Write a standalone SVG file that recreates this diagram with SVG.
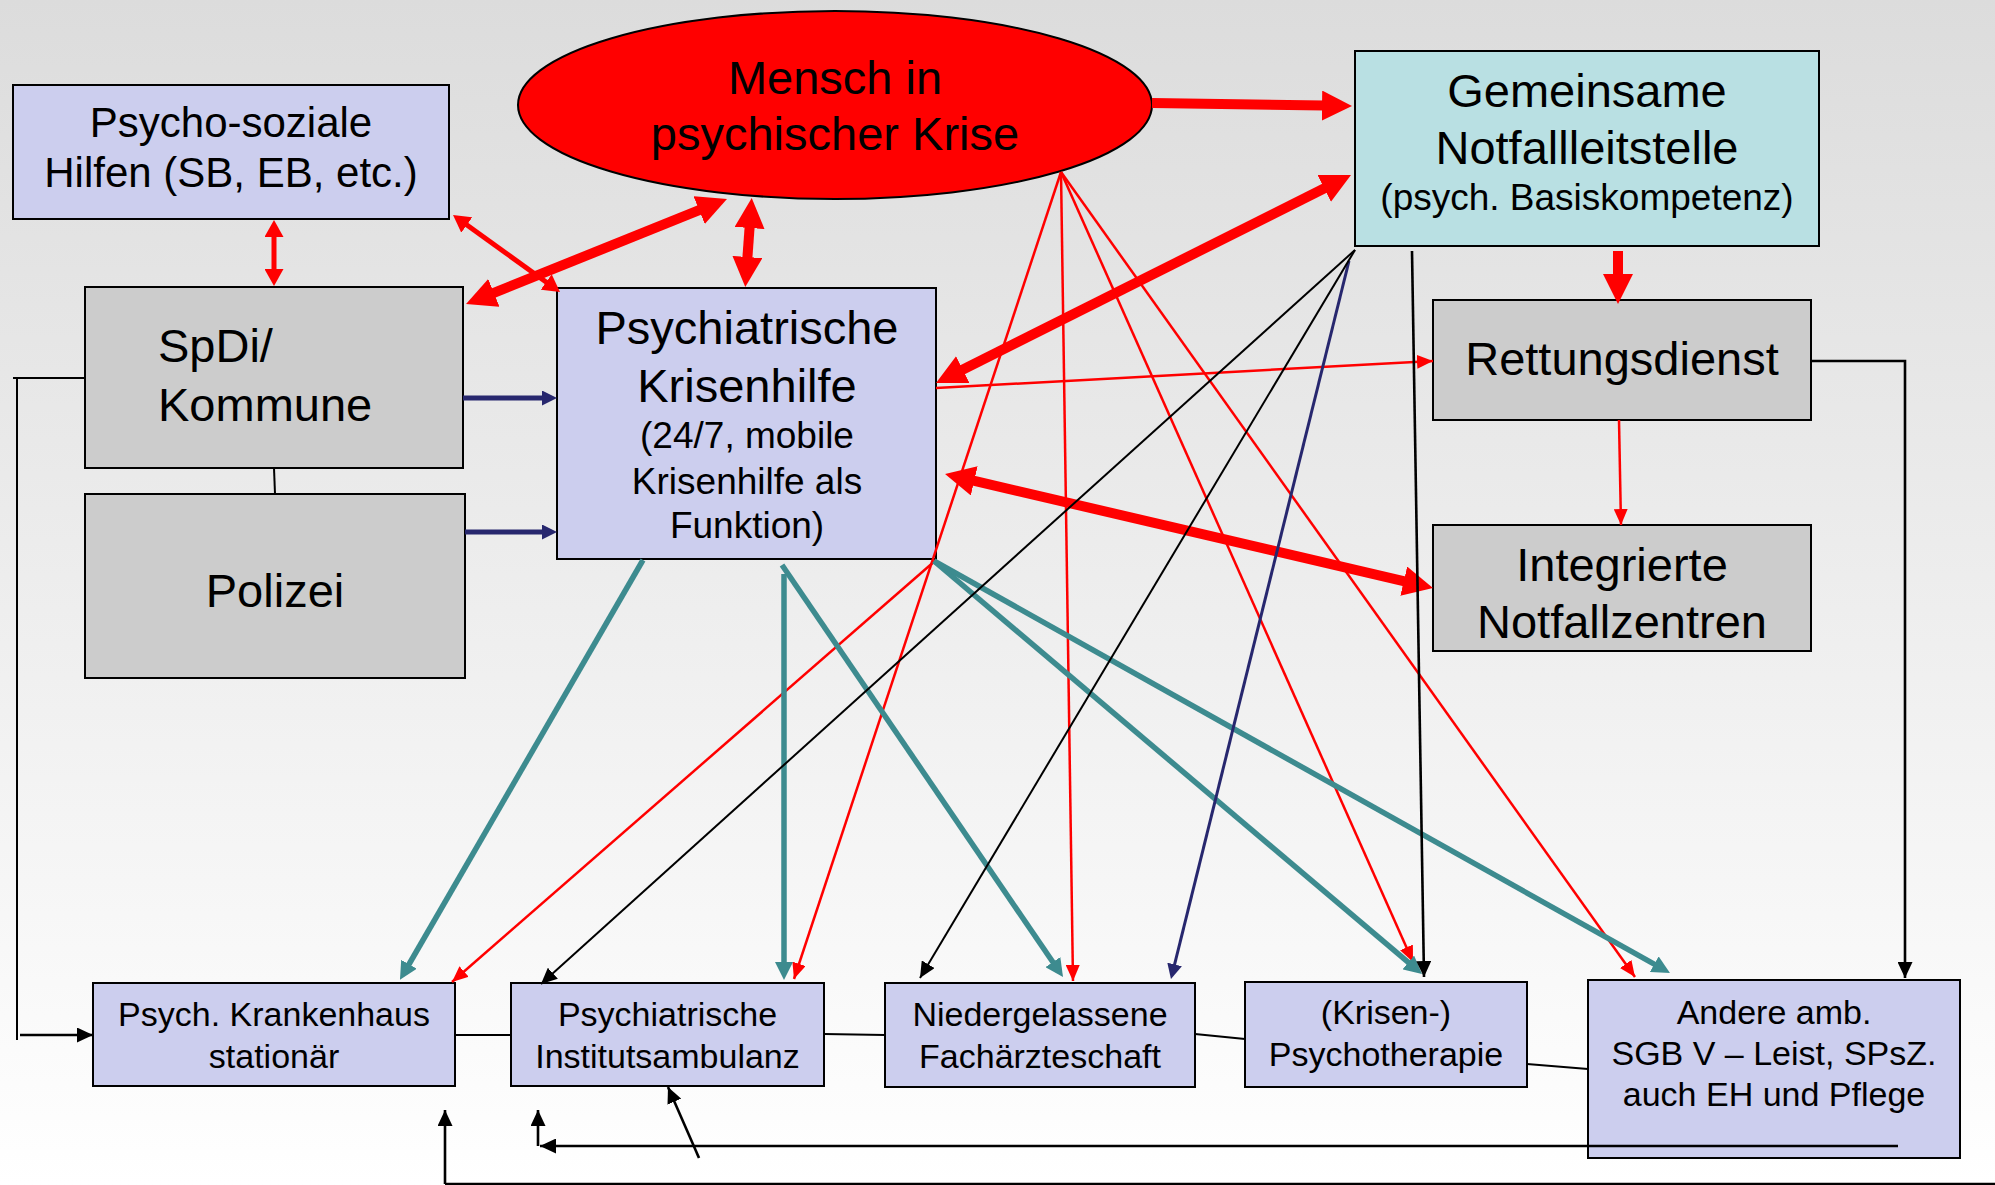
<svg xmlns="http://www.w3.org/2000/svg" width="1995" height="1185" viewBox="0 0 1995 1185">
<defs>
<linearGradient id="bg" x1="0" y1="0" x2="0" y2="1">
<stop offset="0" stop-color="#dcdcdc"/>
<stop offset="1" stop-color="#ffffff"/>
</linearGradient>
<marker id="mRedBig" markerUnits="userSpaceOnUse" viewBox="0 0 30 30" markerWidth="30" markerHeight="30" refX="2" refY="15" orient="auto-start-reverse"><path d="M0,0 L30,15 L0,30 z" fill="#ff0000"/></marker>
<marker id="mRedMed" markerUnits="userSpaceOnUse" viewBox="0 0 17 19" markerWidth="17" markerHeight="19" refX="2" refY="9.5" orient="auto-start-reverse"><path d="M0,0 L17,9.5 L0,19 z" fill="#ff0000"/></marker>
<marker id="mRedThin" markerUnits="userSpaceOnUse" viewBox="0 0 16 14" markerWidth="16" markerHeight="14" refX="16" refY="7" orient="auto"><path d="M0,0 L16,7 L0,14 z" fill="#ff0000"/></marker>
<marker id="mTeal" markerUnits="userSpaceOnUse" viewBox="0 0 18 18" markerWidth="18" markerHeight="18" refX="2" refY="9" orient="auto"><path d="M0,0 L18,9 L0,18 z" fill="#3d8b8f"/></marker>
<marker id="mBlack" markerUnits="userSpaceOnUse" viewBox="0 0 16 15" markerWidth="16" markerHeight="15" refX="16" refY="7.5" orient="auto"><path d="M0,0 L16,7.5 L0,15 z" fill="#000"/></marker>
<marker id="mNavy" markerUnits="userSpaceOnUse" viewBox="0 0 15 15" markerWidth="15" markerHeight="15" refX="2" refY="7.5" orient="auto"><path d="M0,0 L15,7.5 L0,15 z" fill="#27276e"/></marker>
</defs>
<style>
text { font-family: "Liberation Sans", Arial, sans-serif; fill: #000; text-anchor: middle; }
.lav { fill: #ccceee; stroke: #000; stroke-width: 2; }
.gry { fill: #cccccc; stroke: #000; stroke-width: 2; }
.cyan { fill: #b9e0e3; stroke: #000; stroke-width: 2; }
.t47 { font-size: 47px; }
.t42 { font-size: 42px; }
.t37 { font-size: 37px; }
.t34 { font-size: 34px; }
.rb { stroke: #ff0000; stroke-width: 10; fill: none; }
.rm { stroke: #ff0000; stroke-width: 5; fill: none; }
.rt { stroke: #ff0000; stroke-width: 2.5; fill: none; }
.tl { stroke: #3d8b8f; stroke-width: 5.5; fill: none; }
.nv { stroke: #27276e; stroke-width: 5; fill: none; }
.nvt { stroke: #27276e; stroke-width: 3; fill: none; }
.bk { stroke: #000; stroke-width: 2; fill: none; }
.bk3 { stroke: #000; stroke-width: 2.6; fill: none; }
</style>
<rect x="0" y="0" width="1995" height="1185" fill="url(#bg)"/>

<g id="psychosoziale">
<rect class="lav" x="13" y="85" width="436" height="134"/>
<text class="t42" x="231" y="137">Psycho-soziale</text>
<text class="t42" x="231" y="187">Hilfen (SB, EB, etc.)</text>
</g>
<g id="mensch">
<ellipse cx="835" cy="105" rx="317" ry="94" fill="#ff0000" stroke="#000" stroke-width="2"/>
<text class="t47" x="835" y="94">Mensch in</text>
<text class="t47" x="835" y="150">psychischer Krise</text>
</g>
<g id="leitstelle">
<rect class="cyan" x="1355" y="51" width="464" height="195"/>
<text class="t47" x="1587" y="107">Gemeinsame</text>
<text class="t47" x="1587" y="164">Notfallleitstelle</text>
<text class="t37" x="1587" y="210">(psych. Basiskompetenz)</text>
</g>
<g id="spdi">
<rect class="gry" x="85" y="287" width="378" height="181"/>
<text class="t47" x="158" y="362" style="text-anchor:start">SpDi/</text>
<text class="t47" x="158" y="421" style="text-anchor:start">Kommune</text>
</g>
<g id="polizei">
<rect class="gry" x="85" y="494" width="380" height="184"/>
<text class="t47" x="275" y="607">Polizei</text>
</g>
<g id="krisenhilfe">
<rect class="lav" x="557" y="288" width="379" height="271"/>
<text class="t47" x="747" y="344">Psychiatrische</text>
<text class="t47" x="747" y="402">Krisenhilfe</text>
<text class="t37" x="747" y="448">(24/7, mobile</text>
<text class="t37" x="747" y="494">Krisenhilfe als</text>
<text class="t37" x="747" y="538">Funktion)</text>
</g>
<g id="rettungsdienst">
<rect class="gry" x="1433" y="300" width="378" height="120"/>
<text class="t47" x="1622" y="375">Rettungsdienst</text>
</g>
<g id="notfallzentren">
<rect class="gry" x="1433" y="525" width="378" height="126"/>
<text class="t47" x="1622" y="581">Integrierte</text>
<text class="t47" x="1622" y="638">Notfallzentren</text>
</g>
<g id="krankenhaus">
<rect class="lav" x="93" y="983" width="362" height="103"/>
<text class="t34" x="274" y="1026">Psych. Krankenhaus</text>
<text class="t34" x="274" y="1068">stationär</text>
</g>
<g id="institutsambulanz">
<rect class="lav" x="511" y="983" width="313" height="103"/>
<text class="t34" x="667.5" y="1026">Psychiatrische</text>
<text class="t34" x="667.5" y="1068">Institutsambulanz</text>
</g>
<g id="niedergelassene">
<rect class="lav" x="885" y="983" width="310" height="104"/>
<text class="t34" x="1040" y="1026">Niedergelassene</text>
<text class="t34" x="1040" y="1068">Fachärzteschaft</text>
</g>
<g id="psychotherapie">
<rect class="lav" x="1245" y="982" width="282" height="105"/>
<text class="t34" x="1386" y="1024">(Krisen-)</text>
<text class="t34" x="1386" y="1066">Psychotherapie</text>
</g>
<g id="andere">
<rect class="lav" x="1588" y="980" width="372" height="178"/>
<text class="t34" x="1774" y="1024">Andere amb.</text>
<text class="t34" x="1774" y="1065">SGB V – Leist, SPsZ.</text>
<text class="t34" x="1774" y="1106">auch EH und Pflege</text>
</g>

<g id="connectors">
<line class="rb" x1="1152" y1="103" x2="1324" y2="105.6" marker-end="url(#mRedBig)"/>
<line class="rb" x1="1618" y1="251" x2="1618" y2="276" marker-end="url(#mRedBig)"/>
<line class="rb" x1="961" y1="370.5" x2="1326" y2="187.5" marker-start="url(#mRedBig)" marker-end="url(#mRedBig)"/>
<line class="rb" x1="701" y1="209.4" x2="492" y2="293.6" marker-start="url(#mRedBig)" marker-end="url(#mRedBig)"/>
<line class="rb" x1="749.7" y1="226" x2="747.3" y2="259" marker-start="url(#mRedBig)" marker-end="url(#mRedBig)"/>
<line class="rb" x1="972.3" y1="480.4" x2="1405.7" y2="581.6" marker-start="url(#mRedBig)" marker-end="url(#mRedBig)"/>
<line class="rm" x1="274" y1="235" x2="274" y2="271" marker-start="url(#mRedMed)" marker-end="url(#mRedMed)"/>
<line class="rm" x1="465.2" y1="223.8" x2="547.8" y2="283.2" marker-start="url(#mRedMed)" marker-end="url(#mRedMed)"/>
<line class="rt" x1="1061" y1="172" x2="794" y2="979" marker-end="url(#mRedThin)"/>
<line class="rt" x1="1061" y1="172" x2="1073" y2="981" marker-end="url(#mRedThin)"/>
<line class="rt" x1="1061" y1="172" x2="1413" y2="962" marker-end="url(#mRedThin)"/>
<line class="rt" x1="1061" y1="172" x2="1635" y2="977" marker-end="url(#mRedThin)"/>
<line class="rt" x1="936" y1="560" x2="452" y2="982" marker-end="url(#mRedThin)"/>
<line class="rt" x1="936" y1="388" x2="1433" y2="361" marker-end="url(#mRedThin)"/>
<line class="rt" x1="1619" y1="420" x2="1621" y2="525" marker-end="url(#mRedThin)"/>
<line class="tl" x1="643" y1="560" x2="408" y2="966" marker-end="url(#mTeal)"/>
<line class="tl" x1="784" y1="574" x2="784" y2="964" marker-end="url(#mTeal)"/>
<line class="tl" x1="782" y1="565" x2="1054" y2="963.8" marker-end="url(#mTeal)"/>
<line class="tl" x1="934" y1="561" x2="1409.8" y2="963.7" marker-end="url(#mTeal)"/>
<line class="tl" x1="934" y1="561" x2="1656" y2="965.2" marker-end="url(#mTeal)"/>
<line class="nv" x1="463" y1="398" x2="544" y2="398" marker-end="url(#mNavy)"/>
<line class="nv" x1="465" y1="532" x2="544" y2="532" marker-end="url(#mNavy)"/>
<line class="nvt" x1="1349" y1="261" x2="1174.1" y2="966.4" marker-end="url(#mNavy)"/>
<line class="bk" x1="1355" y1="250" x2="541" y2="984" marker-end="url(#mBlack)"/>
<line class="bk" x1="1355" y1="250" x2="920" y2="978" marker-end="url(#mBlack)"/>
<line class="bk3" x1="1412" y1="251" x2="1424" y2="977" marker-end="url(#mBlack)"/>
<polyline class="bk3" points="1811,361 1905,361 1905,978" marker-end="url(#mBlack)"/>
<line class="bk3" x1="699" y1="1158" x2="668" y2="1087" marker-end="url(#mBlack)"/>
<line class="bk" x1="13" y1="378" x2="85" y2="378"/>
<line class="bk" x1="17" y1="378" x2="17" y2="1040"/>
<line class="bk3" x1="20" y1="1035" x2="93" y2="1035" marker-end="url(#mBlack)"/>
<line class="bk3" x1="445" y1="1184" x2="1995" y2="1184"/>
<line class="bk3" x1="445" y1="1184" x2="445" y2="1110" marker-end="url(#mBlack)"/>
<line class="bk3" x1="1898" y1="1146" x2="540" y2="1146" marker-end="url(#mBlack)"/>
<line class="bk3" x1="538" y1="1146" x2="538" y2="1110" marker-end="url(#mBlack)"/>
<line class="bk" x1="455" y1="1035" x2="511" y2="1035"/>
<line class="bk" x1="824" y1="1034" x2="885" y2="1035"/>
<line class="bk" x1="1195" y1="1034" x2="1245" y2="1039"/>
<line class="bk" x1="1527" y1="1064" x2="1588" y2="1069"/>
<line class="bk" x1="274" y1="468" x2="275" y2="494"/>
</g>
</svg>
